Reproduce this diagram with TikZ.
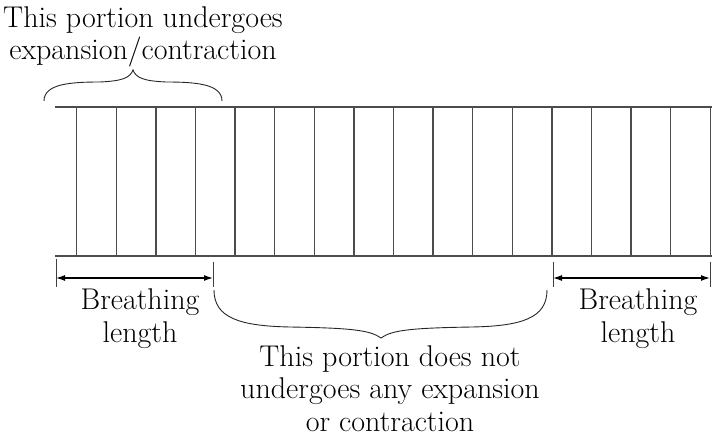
\documentclass[tikz,border=0pt]{standalone}
\usetikzlibrary{arrows.meta}
\begin{document}
\begin{tikzpicture}[x=1pt,y=-1pt,
  grid/.style={draw=black!70, line width=1.3pt},
  dimline/.style={draw=black, line width=1.3pt, {Latex[length=9pt,width=6pt]}-{Latex[length=9pt,width=6pt]}},
  tick/.style={draw=black!75, line width=0.8pt},
  bracepath/.style={draw=black!85, line width=0.9pt},
  lbl/.style={align=center, font=\fontsize{30}{32.5}\selectfont, inner sep=0pt, anchor=base}]
\useasboundingbox (0,0) rectangle (713,441);
% rails
\coordinate (tl) at (55,107);
\coordinate (tr) at (712,107);
\coordinate (bl) at (55,256);
\coordinate (br) at (712,256);
\draw[grid] (tl) -- (tr);
\draw[grid] (bl) -- (br);
\foreach \i in {0,...,16}{
  \coordinate (vt\i) at ({76.7+39.6*\i},107);
  \coordinate (vb\i) at ({76.7+39.6*\i},256);
  \draw[grid] (vt\i) -- (vb\i);
}
% top brace
\draw[bracepath] (44,101) .. controls (44,84) and (70,82) .. (100,82)
  .. controls (122,81) and (130,78) .. (133,70)
  .. controls (136,78) and (144,81) .. (166,82)
  .. controls (196,82) and (222,84) .. (222,101);
% bottom brace
\draw[bracepath] (214,290) .. controls (214,318) and (240,326) .. (290,327)
  .. controls (350,328) and (370,330) .. (381,338)
  .. controls (392,330) and (412,328) .. (472,327)
  .. controls (522,326) and (547,318) .. (547,290);
% dimension ticks
\coordinate (l1a) at (56,259); \coordinate (l1b) at (56,287);
\coordinate (l2a) at (213,262); \coordinate (l2b) at (213,287);
\coordinate (r1a) at (553,262); \coordinate (r1b) at (553,287);
\coordinate (r2a) at (710,262); \coordinate (r2b) at (710,287);
\draw[tick] (l1a) -- (l1b);
\draw[tick] (l2a) -- (l2b);
\draw[tick] (r1a) -- (r1b);
\draw[tick] (r2a) -- (r2b);
\coordinate (la) at (56,278); \coordinate (lb) at (213,278);
\coordinate (ra) at (553,278); \coordinate (rb) at (710,278);
\draw[dimline] (la) -- (lb);
\draw[dimline] (ra) -- (rb);
% labels (anchor base = baseline of last line)
\node[lbl] (top) at (143,60) {This portion undergoes\\expansion/contraction};
\node[lbl] (bl1) at (140,342) {Breathing\\length};
\node[lbl] (br1) at (638,342) {Breathing\\length};
\node[lbl] (mid) at (390,431) {This portion does not\\undergoes any expansion\\or contraction};
\end{tikzpicture}
\end{document}
